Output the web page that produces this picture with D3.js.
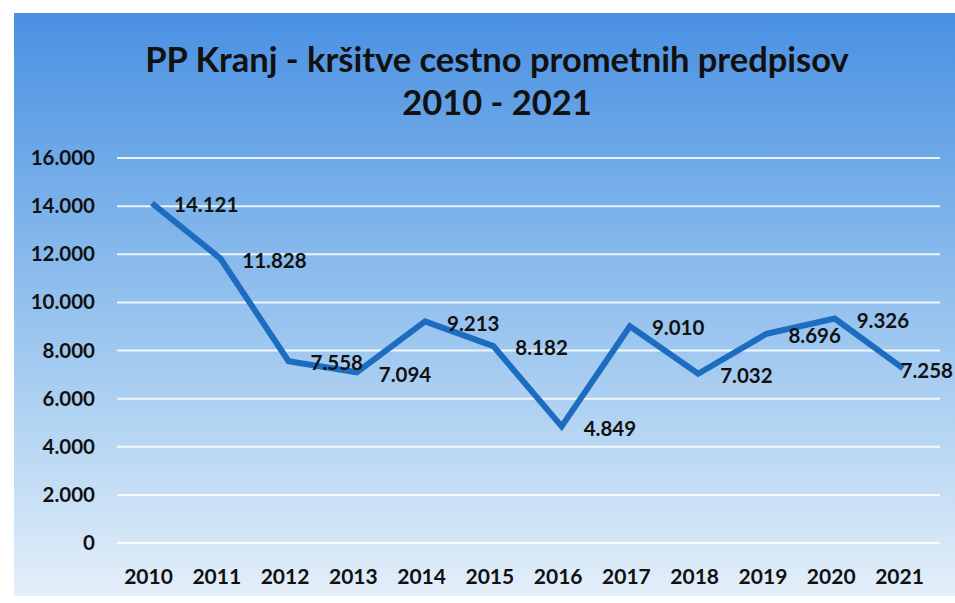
<!DOCTYPE html>
<html><head><meta charset="utf-8">
<script src="https://cdn.jsdelivr.net/npm/d3@7"></script>
<style>html,body{margin:0;padding:0;background:#fff;} svg{display:block;}</style>
</head><body>
<svg id="chart" width="955" height="603"></svg>
<script>
const years = ["2010","2011","2012","2013","2014","2015","2016","2017","2018","2019","2020","2021"];
const values = [14121, 11828, 7558, 7094, 9213, 8182, 4849, 9010, 7032, 8696, 9326, 7258];
const yTicks = [0, 2000, 4000, 6000, 8000, 10000, 12000, 14000, 16000];
const titleLines = ["PP Kranj - kršitve cestno prometnih predpisov", "2010 - 2021"];

const svg = d3.select("#chart");
const W = 955, H = 603;
const font = "Lato, 'Open Sans', sans-serif";

const defs = svg.append("defs");
const grad = defs.append("linearGradient").attr("id","bg").attr("x1",0).attr("y1",0).attr("x2",0).attr("y2",1);
grad.append("stop").attr("offset","0%").attr("stop-color","#4a90e2");
grad.append("stop").attr("offset","35%").attr("stop-color","#7db3ea");
grad.append("stop").attr("offset","75%").attr("stop-color","#bad8f4");
grad.append("stop").attr("offset","100%").attr("stop-color","#e4eff9");

svg.append("rect").attr("x",0).attr("y",0).attr("width",W).attr("height",H).attr("fill","#fff");
svg.append("rect").attr("x",14).attr("y",13).attr("width",W-14).attr("height",H-20).attr("fill","url(#bg)");

const x = d3.scalePoint().domain(years).range([152, 903]);
const y = d3.scaleLinear().domain([0, 16000]).range([543, 158]);

// gridlines
svg.append("g").selectAll("line").data(yTicks).join("line")
  .attr("x1",117).attr("x2",940)
  .attr("y1",d=>y(d)).attr("y2",d=>y(d))
  .attr("stroke","#ffffff").attr("stroke-opacity",0.85).attr("stroke-width",2);

// y axis labels
const fmt = d => d === 0 ? "0" : d3.format(",")(d).replace(/,/g, ".");
const yAxis = d3.axisLeft(y).tickValues(yTicks).tickFormat(fmt).tickSize(0).tickPadding(0);
const gy = svg.append("g").attr("transform","translate(95,0)").call(yAxis);
gy.select(".domain").remove();
gy.selectAll("text").attr("font-family",font).attr("font-weight","bold").attr("font-size",20.5).attr("fill","#111");

// x axis labels
const xAxis = d3.axisBottom(x).tickSize(0).tickPadding(0);
const gx = svg.append("g").attr("transform","translate(-4,577)").call(xAxis);
gx.select(".domain").remove();
gx.selectAll("text").attr("font-family",font).attr("font-weight","bold").attr("font-size",21).attr("fill","#111").attr("dy","0.35em");

// line
const line = d3.line().x((d,i)=>x(years[i])).y(d=>y(d));
svg.append("path").datum(values).attr("d",line)
  .attr("fill","none").attr("stroke","#1c6cc0").attr("stroke-width",6).attr("stroke-linejoin","miter");

// data labels
const last = values.length - 1;
svg.append("g").selectAll("text").data(values).join("text")
  .attr("x",(d,i)=> i === last ? W - 2 : x(years[i]) + 22)
  .attr("text-anchor",(d,i)=> i === last ? "end" : "start")
  .attr("y",d=>y(d)+4)
  .attr("dominant-baseline","middle")
  .attr("font-family",font).attr("font-weight","bold").attr("font-size",20.5).attr("fill","#111")
  .text(d=>fmt(d));

// title
svg.append("g").selectAll("text").data(titleLines).join("text")
  .attr("x",497).attr("y",(d,i)=>72 + i*43)
  .attr("text-anchor","middle")
  .attr("font-family",font).attr("font-weight","bold").attr("font-size",34.5).attr("fill","#111")
  .text(d=>d);
</script>
</body></html>
